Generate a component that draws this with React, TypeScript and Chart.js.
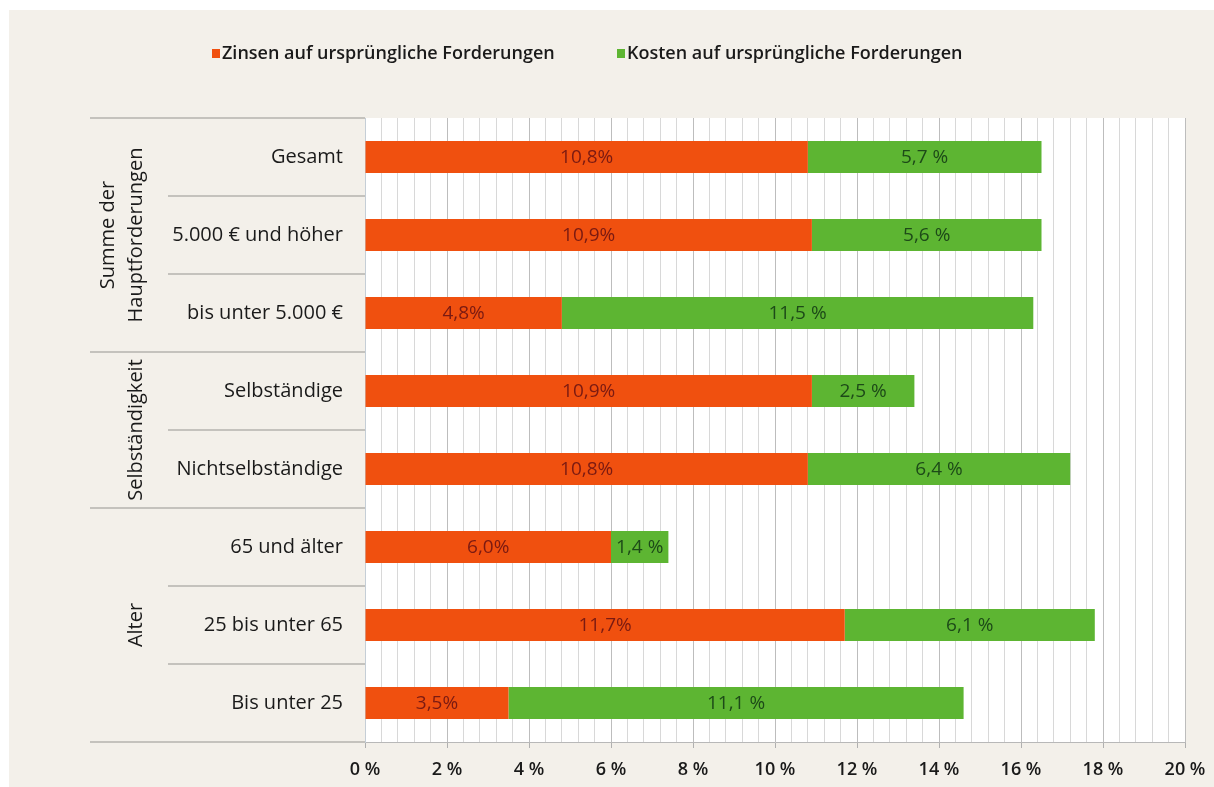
import React, { useEffect, useRef } from "react";
import { Chart, registerables } from "chart.js";

Chart.register(...registerables);

const categories = [
  "Gesamt",
  "5.000 € und höher",
  "bis unter 5.000 €",
  "Selbständige",
  "Nichtselbständige",
  "65 und älter",
  "25 bis unter 65",
  "Bis unter 25",
];
const zinsen = [10.8, 10.9, 4.8, 10.9, 10.8, 6.0, 11.7, 3.5];
const kosten = [5.7, 5.6, 11.5, 2.5, 6.4, 1.4, 6.1, 11.1];
const seriesNames = [
  "Zinsen auf ursprüngliche Forderungen",
  "Kosten auf ursprüngliche Forderungen",
];
const groupLabels = [["Summe der", "Hauptforderungen"], ["Selbständigkeit"], ["Alter"]];
const groupStarts = [0, 3, 5];
const groupEnds = [2, 4, 7];
const xMax = 20;
const xMajorStep = 2;
const xMinorStep = 0.4;

const FONT = "'Open Sans', sans-serif";
const RED = "#f0500f";
const GREEN = "#5db532";
const RED_TEXT = "#7a1a12";
const GREEN_TEXT = "#1d4a18";
const BEIGE = "#f3f0ea";

const fmtRed = (v: number) => v.toFixed(1).replace(".", ",") + "%";
const fmtGreen = (v: number) => v.toFixed(1).replace(".", ",") + " %";

const isMajor = (v: number) => Math.abs(v / xMajorStep - Math.round(v / xMajorStep)) < 1e-6;

export default function App() {
  const ref = useRef<HTMLCanvasElement | null>(null);

  useEffect(() => {
    if (!ref.current) return;

    const decor = {
      id: "decor",
      beforeDraw(chart: any) {
        const { ctx, chartArea } = chart;
        ctx.save();
        ctx.fillStyle = "#ffffff";
        ctx.fillRect(0, 0, chart.width, chart.height);
        ctx.fillStyle = BEIGE;
        ctx.fillRect(9, 10, chart.width - 9, chart.height - 10);
        ctx.fillStyle = "#ffffff";
        ctx.fillRect(chartArea.left, chartArea.top, chartArea.right - chartArea.left, chartArea.bottom - chartArea.top);
        ctx.restore();
      },
      afterDraw(chart: any) {
        const { ctx, chartArea } = chart;
        const y = chart.scales.y;
        ctx.save();
        // separators
        ctx.strokeStyle = "#b5b3ae";
        ctx.lineWidth = 1.5;
        const groupBoundaries = new Set<number>();
        groupEnds.forEach((e) => groupBoundaries.add(e));
        const line = (x1: number, yy: number) => {
          ctx.beginPath();
          ctx.moveTo(x1, yy);
          ctx.lineTo(chartArea.left, yy);
          ctx.stroke();
        };
        line(90, chartArea.top);
        line(90, chartArea.bottom);
        for (let i = 0; i < categories.length - 1; i++) {
          const yy = (y.getPixelForValue(i) + y.getPixelForValue(i + 1)) / 2;
          line(groupBoundaries.has(i) ? 90 : 168, yy);
        }
        // group labels
        ctx.fillStyle = "#1a1a1a";
        ctx.font = `20px ${FONT}`;
        ctx.textAlign = "center";
        ctx.textBaseline = "middle";
        groupLabels.forEach((lines, gi) => {
          const cy = (y.getPixelForValue(groupStarts[gi]) + y.getPixelForValue(groupEnds[gi])) / 2;
          lines.forEach((t, li) => {
            const cx = 136 - (lines.length - 1 - li) * 28;
            ctx.save();
            ctx.translate(cx, cy);
            ctx.rotate(-Math.PI / 2);
            ctx.fillText(t, 0, 0);
            ctx.restore();
          });
        });
        // legend
        ctx.font = `600 18px ${FONT}`;
        ctx.textAlign = "left";
        const legendY = 53;
        const items = [
          { x: 212, color: RED, text: seriesNames[0] },
          { x: 617, color: GREEN, text: seriesNames[1] },
        ];
        items.forEach((it) => {
          ctx.fillStyle = it.color;
          ctx.fillRect(it.x, legendY - 4, 8, 9);
          ctx.fillStyle = "#1a1a1a";
          ctx.fillText(it.text, it.x + 10, legendY + 1);
        });
        // data labels
        ctx.font = `500 19px ${FONT}`;
        ctx.textAlign = "center";
        chart.data.datasets.forEach((ds: any, di: number) => {
          const meta = chart.getDatasetMeta(di);
          meta.data.forEach((el: any, i: number) => {
            const cx = (el.x + el.base) / 2;
            ctx.fillStyle = di === 0 ? RED_TEXT : GREEN_TEXT;
            ctx.fillText(di === 0 ? fmtRed(ds.data[i]) : fmtGreen(ds.data[i]), cx, el.y + 1);
          });
        });
        ctx.restore();
      },
    };

    const chart = new Chart(ref.current, {
      type: "bar",
      data: {
        labels: categories,
        datasets: [
          { label: seriesNames[0], data: zinsen, backgroundColor: RED, categoryPercentage: 1, barPercentage: 0.41 },
          { label: seriesNames[1], data: kosten, backgroundColor: GREEN, categoryPercentage: 1, barPercentage: 0.41 },
        ],
      },
      options: {
        indexAxis: "y",
        animation: false,
        responsive: false,
        layout: { padding: { top: 118, right: 29, left: 0, bottom: 0 } },
        plugins: { legend: { display: false }, tooltip: { enabled: false } },
        scales: {
          x: {
            stacked: true,
            min: 0,
            max: xMax,
            afterFit: (s: any) => {
              s.height = 45;
              s.paddingRight = 0;
              s.paddingLeft = 0;
            },
            ticks: {
              stepSize: xMinorStep,
              autoSkip: false,
              maxRotation: 0,
              padding: 11,
              color: "#1a1a1a",
              font: { family: FONT, size: 18, weight: "600" },
              callback: (v: any) => (isMajor(Number(v)) ? `${Math.round(Number(v))} %` : ""),
            },
            grid: {
              color: (c: any) => (isMajor(c.tick.value) ? "#bdbdbd" : "#d8d8d8"),
              tickColor: (c: any) => (isMajor(c.tick.value) ? "#b0b0b0" : "rgba(0,0,0,0)"),
              tickLength: 6,
              lineWidth: 1,
            },
            border: { color: "#b8b8b8" },
          },
          y: {
            stacked: true,
            afterFit: (s: any) => {
              s.width = 365;
            },
            ticks: {
              padding: 22,
              color: "#1a1a1a",
              font: { family: FONT, size: 20 },
            },
            grid: { display: false, drawTicks: false },
            border: { color: "#c5ced6" },
          },
        },
      },
      plugins: [decor],
    });
    return () => chart.destroy();
  }, []);

  return (
    <div style={{ position: "fixed", left: 0, top: 0, width: 1214, height: 787 }}>
      <canvas ref={ref} width={1214} height={787} style={{ width: 1214, height: 787, display: "block" }} />
    </div>
  );
}
